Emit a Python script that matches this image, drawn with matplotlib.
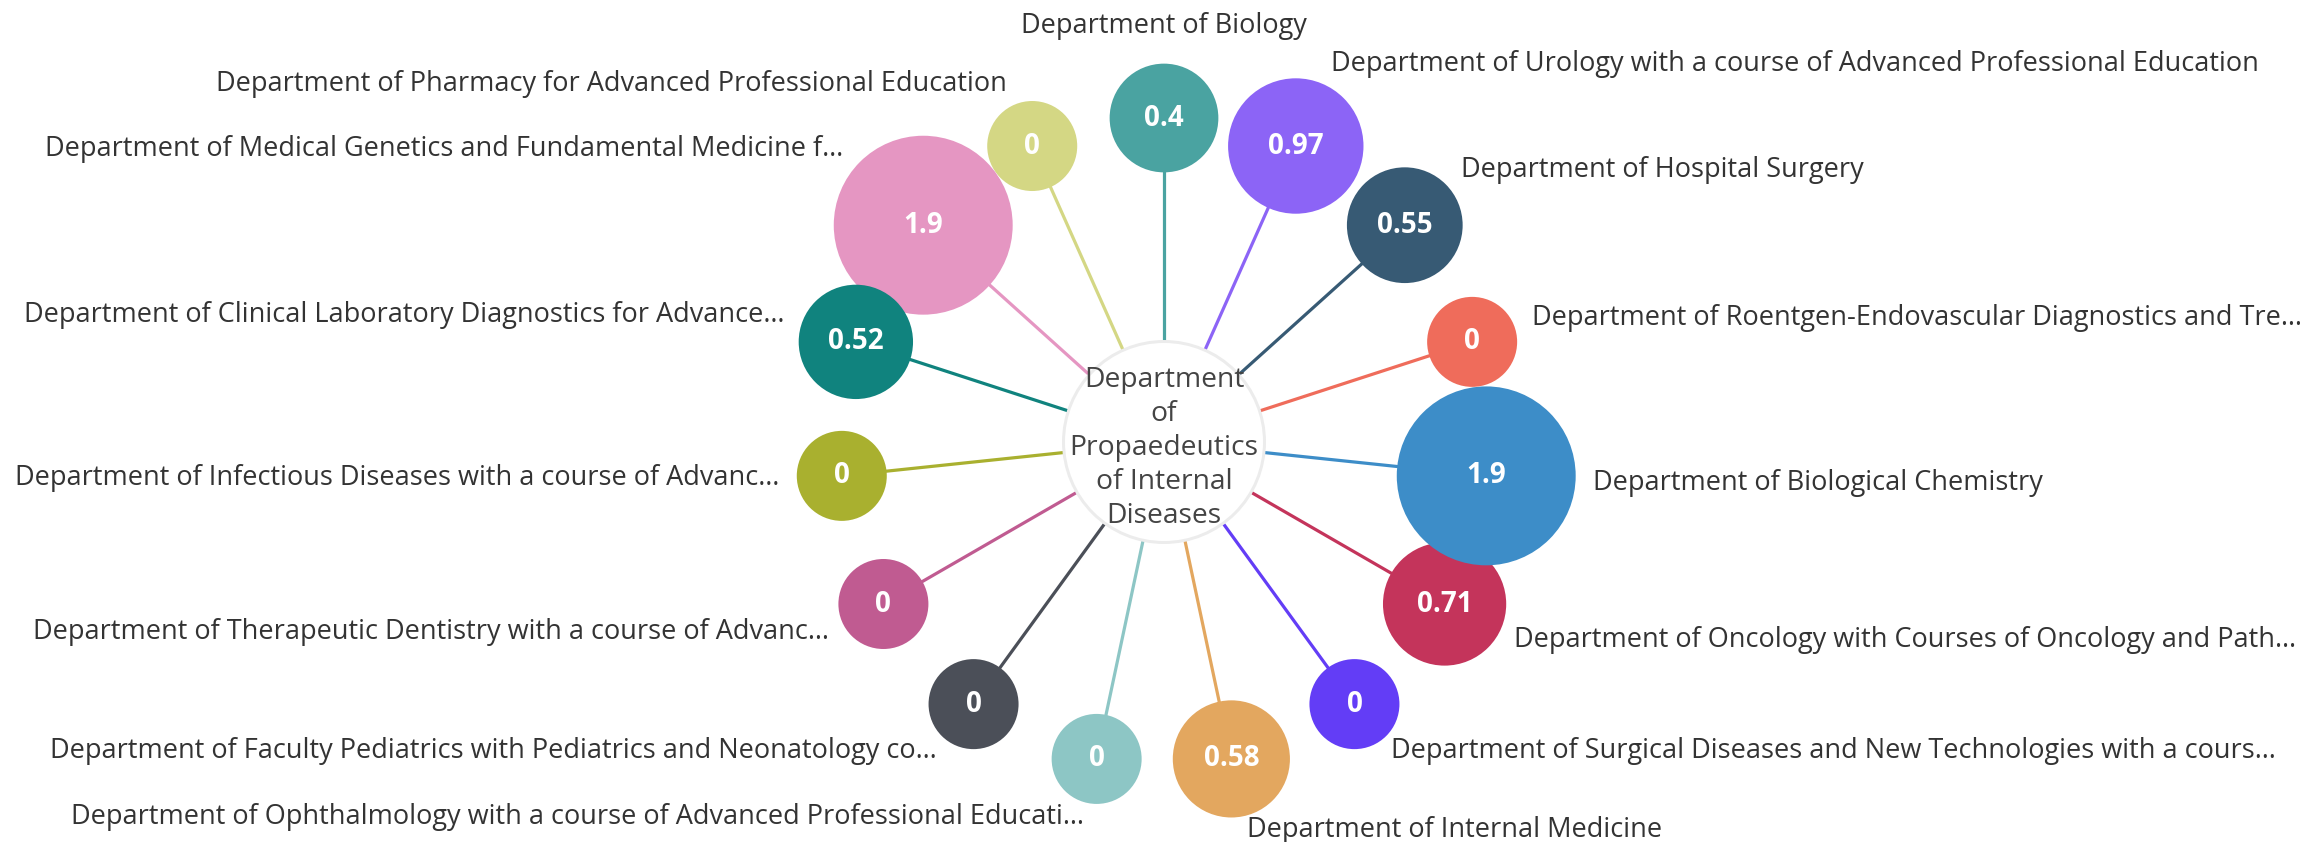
#!/usr/bin/env python3
"""
Radial network chart: one central department linked to 15 others.
Output: out.png (2318x842px)
"""

import matplotlib
matplotlib.use("Agg")
import matplotlib.pyplot as plt
import matplotlib.patches as mpatches
import numpy as np

# ─── DATA ─────────────────────────────────────────────────────────────────────

CENTER_LABEL = "Department\nof\nPropaedeutics\nof Internal\nDiseases"

LABELS = [
    "Department of Biology",
    "Department of Urology with a course of Advanced Professional Education",
    "Department of Hospital Surgery",
    "Department of Roentgen-Endovascular Diagnostics and Tre…",
    "Department of Biological Chemistry",
    "Department of Oncology with Courses of Oncology and Path…",
    "Department of Surgical Diseases and New Technologies with a cours…",
    "Department of Internal Medicine",
    "Department of Ophthalmology with a course of Advanced Professional Educati…",
    "Department of Faculty Pediatrics with Pediatrics and Neonatology co…",
    "Department of Therapeutic Dentistry with a course of Advanc…",
    "Department of Infectious Diseases with a course of Advanc…",
    "Department of Clinical Laboratory Diagnostics for Advance…",
    "Department of Medical Genetics and Fundamental Medicine f…",
    "Department of Pharmacy for Advanced Professional Education",
]

VALUES = [0.4, 0.97, 0.55, 0, 1.9, 0.71, 0, 0.58, 0, 0, 0, 0, 0.52, 1.9, 0]
VALUE_TEXT = ["0.4", "0.97", "0.55", "0", "1.9", "0.71", "0", "0.58",
              "0", "0", "0", "0", "0.52", "1.9", "0"]

COLORS = [
    "#4aa3a1", "#8c64f6", "#375a74", "#ef6c5b", "#3d8dc8",
    "#c4345b", "#633df6", "#e3a75f", "#8dc6c5", "#4b4f58",
    "#c05b91", "#a9b02f", "#10837e", "#e596c2", "#d4d784",
]

# ─── LAYOUT (pixels) ──────────────────────────────────────────────────────────

W, H = 2318, 842
CX, CY = 1164, 442
CENTER_R = 99
RING_R = 324
MIN_R = 45
R_PER_UNIT = 23.4
LABEL_GAP = 18

TEXT_CLR = "#333333"
FONT = ["Open Sans", "DejaVu Sans"]


def draw():
    fig = plt.figure(figsize=(W / 100, H / 100), dpi=100)
    fig.patch.set_facecolor("white")
    ax = fig.add_axes([0, 0, 1, 1])
    ax.set_xlim(0, W)
    ax.set_ylim(H, 0)
    ax.set_aspect("equal")
    ax.axis("off")

    n = len(VALUES)
    angles = np.deg2rad(90 - 360 / n * np.arange(n))

    for i, (lab, val, vtxt, clr) in enumerate(zip(LABELS, VALUES, VALUE_TEXT, COLORS)):
        a = angles[i]
        dx, dy = np.cos(a), -np.sin(a)
        nx, ny = CX + RING_R * dx, CY + RING_R * dy
        r = MIN_R + R_PER_UNIT * val
        z = 10 + (n - i)

        # link
        ax.plot([CX, nx], [CY, ny], color=clr, lw=2.3, zorder=2,
                solid_capstyle="butt")
        # node
        ax.add_patch(mpatches.Circle((nx, ny), r, facecolor=clr,
                                     edgecolor="none", zorder=z))
        ax.text(nx, ny, vtxt, fontsize=20, fontweight="bold", color="white",
                ha="center", va="center", zorder=z, family=FONT)

        # outside label
        lx = nx + (r + LABEL_GAP) * dx
        ly = ny + (r + LABEL_GAP) * dy - 4
        if abs(dx) < 0.05:
            ha, va = "center", "bottom"
            ly -= 2
        elif dx > 0:
            ha, va = "left", "center"
        else:
            ha, va = "right", "center"
        ax.text(lx, ly, lab, fontsize=19.5, color=TEXT_CLR, ha=ha, va=va,
                zorder=40, family=FONT)

    # center node
    ax.add_patch(mpatches.Circle((CX, CY), CENTER_R + 3, facecolor="#ececec",
                                 edgecolor="none", zorder=30))
    ax.add_patch(mpatches.Circle((CX, CY), CENTER_R, facecolor="white",
                                 edgecolor="none", zorder=31))
    ax.text(CX, CY + 6, CENTER_LABEL, fontsize=20.3, color="#444444",
            ha="center", va="center", linespacing=1.28, zorder=32, family=FONT)

    fig.savefig("out.png", dpi=100, facecolor="white")
    plt.close(fig)


if __name__ == "__main__":
    draw()
